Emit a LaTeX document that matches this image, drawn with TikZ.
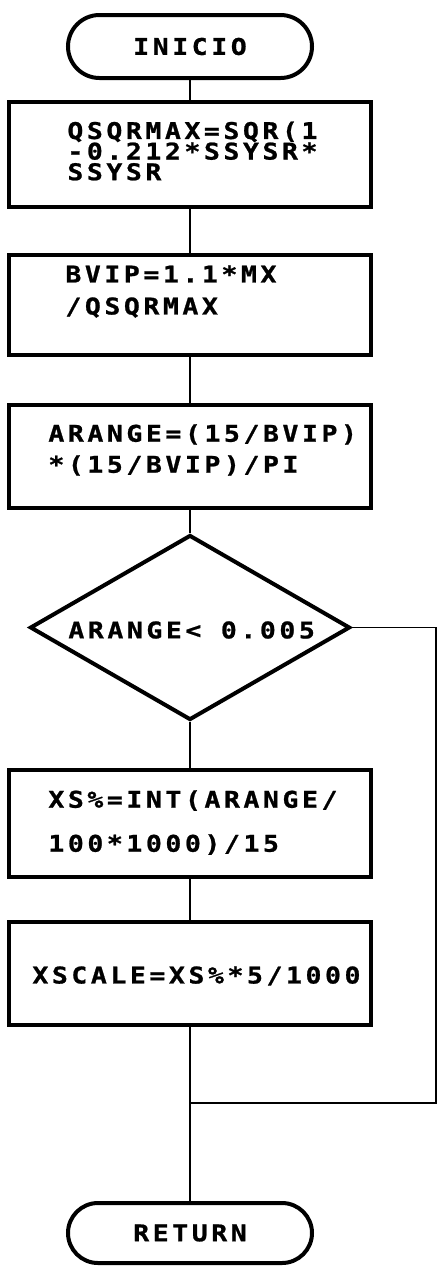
\documentclass[tikz,border=0pt]{standalone}
\usepackage{fontspec}
\newfontfamily\codefont[LetterSpace=15.6, FakeStretch=1.15, FakeBold=1]{DejaVu Sans Mono}
\usetikzlibrary{shapes.geometric, shapes.misc}
\tikzset{
  procbox/.style={draw, line width=2pt, minimum width=181pt, inner sep=0pt},
  termbox/.style={draw, rounded rectangle, line width=2pt, minimum width=122pt, inner sep=0pt,
    font=\codefont\bfseries\fontsize{11.5pt}{12pt}\selectfont},
  decbox/.style={draw, diamond, line width=2pt, minimum width=160pt, minimum height=92.5pt, inner sep=0pt},
  codetext/.style={anchor=west, inner sep=0pt, align=left,
    font=\codefont\bfseries\fontsize{11.5pt}{#1}\selectfont},
  codetext/.default=12pt,
  link/.style={line width=1pt},
  loopline/.style={line width=0.6pt}
}
\AtBeginDocument{\lineskiplimit=-20pt\relax}

\begin{document}
\begin{tikzpicture}[x=0.5pt, y=-0.5pt]
    \useasboundingbox (0,0) rectangle (438,1270);
    % start
    \node[termbox, minimum height=31.5pt] (start) at (190,46.5) {INICIO};
    % assignments
    \node[procbox, minimum height=52.5pt] (b1) at (190,154.5) {};
    \node[codetext=10.3pt] (t1) at (67,151) {QSQRMAX=SQR(1\\-0.212*SSYSR*\\SSYSR};
    \node[procbox, minimum height=50pt] (b2) at (190,305) {};
    \node[codetext=16pt] (t2) at (65,291.5) {BVIP=1.1*MX\\/QSQRMAX};
    \node[procbox, minimum height=51.5pt] (b3) at (190,456.5) {};
    \node[codetext=15.5pt] (t3) at (48,450) {ARANGE=(15/BVIP)\\*(15/BVIP)/PI};
    % test
    \node[decbox] (dec) at (190,627.5) {};
    \node[codetext] (dt) at (68,630) {ARANGE< 0.005};
    % scale
    \node[procbox, minimum height=53.5pt] (b4) at (190,823.5) {};
    \node[codetext=22pt] (t4) at (48,822.5) {XS\%=INT(ARANGE/\\100*1000)/15};
    \node[procbox, minimum height=51.5pt] (b5) at (190,973.5) {};
    \node[codetext] (t5) at (32,976) {XSCALE=XS\%*5/1000};
    % end
    \node[termbox, minimum height=30pt] (ret) at (190,1233) {RETURN};

    \draw[link] (start.south) -- (b1.north);
    \draw[link] (b1.south) -- (b2.north);
    \draw[link] (b2.south) -- (b3.north);
    \draw[link] (b3.south) -- (dec.north);
    \draw[link] (dec.south) -- (b4.north);
    \draw[link] (b4.south) -- (b5.north);
    \draw[link] (b5.south) -- (ret.north);
    % skip branch
    \coordinate (join) at (190,1103);
    \coordinate (corner) at (436,1103);
    \draw[loopline] (dec.east) -- (dec.east -| corner) -- (corner) -- (join);
\end{tikzpicture}
\end{document}
